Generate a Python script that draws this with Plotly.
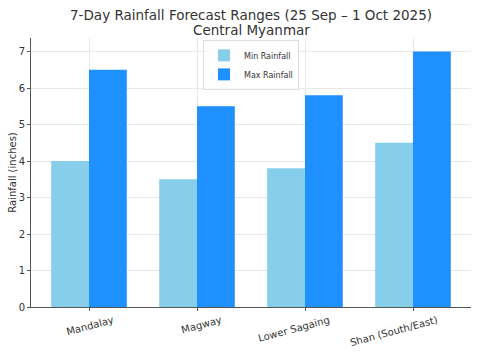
import plotly.graph_objects as go

regions = ["Mandalay", "Magway", "Lower Sagaing", "Shan (South/East)"]
min_rain = [4.0, 3.5, 3.8, 4.5]
max_rain = [6.5, 5.5, 5.8, 7.0]
title_line1 = "7-Day Rainfall Forecast Ranges (25 Sep – 1 Oct 2025)"
title_line2 = "Central Myanmar"

fig = go.Figure()
fig.add_trace(go.Bar(x=regions, y=min_rain, name="Min Rainfall", marker_color="#87CEEB", marker_line_width=0))
fig.add_trace(go.Bar(x=regions, y=max_rain, name="Max Rainfall", marker_color="#1E90FF", marker_line_width=0))

font = "DejaVu Sans, sans-serif"
fig.update_layout(
    width=480, height=360,
    margin=dict(l=31, r=9, t=38, b=53, autoexpand=False),
    paper_bgcolor="white", plot_bgcolor="white",
    barmode="group", bargap=0.3, bargroupgap=0,
    font=dict(family=font, size=10, color="#333333"),
    title=dict(text=title_line1,
               x=0.523, xanchor="center", y=1 - 15/360, yanchor="middle", automargin=False,
               font=dict(size=13.5, color="#333333")),
    legend=dict(x=0.5, xanchor="center", y=0.993, yanchor="top",
                bgcolor="rgba(255,255,255,0.8)", bordercolor="#dddddd", borderwidth=1,
                font=dict(size=8, color="#333333"), tracegroupgap=0, itemwidth=30),
    xaxis=dict(range=[-0.537, 3.537], showline=True, linecolor="#555555", linewidth=1,
               ticks="outside", ticklen=3, tickcolor="#555555", tickangle=-15, automargin=False,
               ticklabelshift=24,
               showgrid=True, gridcolor="#e8e8e8", gridwidth=0.8,
               tickfont=dict(size=10, color="#333333")),
    yaxis=dict(range=[0, 7.37], dtick=1, showline=True, linecolor="#555555", linewidth=1,
               ticks="outside", ticklen=3, tickcolor="#555555", automargin=False,
               showgrid=True, gridcolor="#e8e8e8", gridwidth=0.8, zeroline=False,
               title=dict(text="Rainfall (inches)", font=dict(size=10, color="#333333"), standoff=0),
               tickfont=dict(size=10, color="#333333")),
)
fig.add_annotation(text=title_line2, xref="paper", yref="paper", x=0.5, xanchor="center",
                   y=1 + (38 - 30) / 269, yanchor="middle", showarrow=False,
                   font=dict(size=13.5, color="#333333"))
fig.write_html("out.html", post_script="document.body.style.margin='0';",
               config={"displayModeBar": False})
